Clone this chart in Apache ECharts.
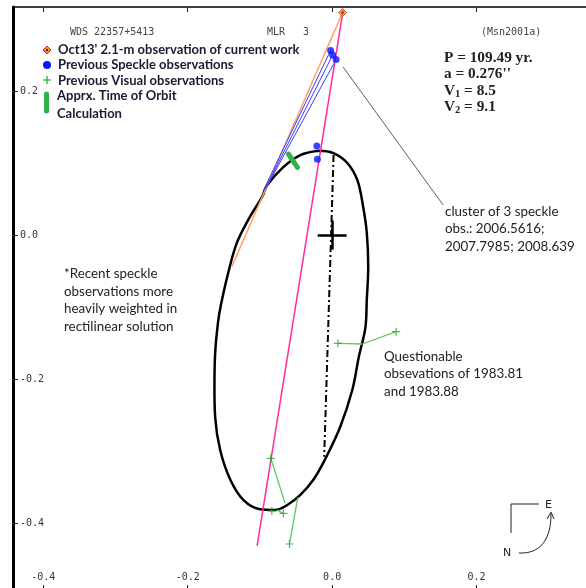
<!DOCTYPE html>
<html>
<head>
<meta charset="utf-8">
<script src="https://cdn.jsdelivr.net/npm/echarts@6/dist/echarts.min.js"></script>
<style>
  html, body { margin: 0; padding: 0; background: #fff; }
  #chart { width: 586px; height: 588px; }
</style>
</head>
<body>
<div id="chart"></div>
<script>
// tick values on both axes
const xTicks = [-0.4, -0.2, 0, 0.2];
const yTicks = [-0.4, -0.2, 0, 0.2];

// orbit ellipse (arcsec)
const orbit = [
  [-0.019, 0.117], [0.001, 0.114], [0.021, 0.100], [0.035, 0.076], [0.043, 0.039],
  [0.048, 0.003], [0.050, -0.044], [0.048, -0.090], [0.046, -0.129], [0.037, -0.169],
  [0.028, -0.215], [0.011, -0.267], [-0.010, -0.312], [-0.026, -0.340], [-0.044, -0.361],
  [-0.062, -0.375], [-0.079, -0.382], [-0.100, -0.381], [-0.123, -0.368], [-0.141, -0.340],
  [-0.155, -0.299], [-0.162, -0.253], [-0.163, -0.211], [-0.162, -0.164], [-0.158, -0.121],
  [-0.154, -0.097], [-0.144, -0.053], [-0.132, -0.011], [-0.114, 0.025], [-0.097, 0.053],
  [-0.090, 0.069], [-0.068, 0.094], [-0.044, 0.111], [-0.019, 0.117]
];
const apsides = [[0.002, 0.111], [-0.011, -0.308]];
const rectilinear = [[0.0152, 0.3125], [-0.1039, -0.4319]];

// Oct13' observation and its place on the orbit
const newObs = [[0.0145, 0.309]];
const newObsFit = [[-0.139, -0.044]];

// previous speckle observations
const speckle = [[-0.0021, 0.2563], [0.0007, 0.2500], [0.0055, 0.2438], [-0.0212, 0.1236], [-0.0204, 0.1051]];
const speckleFit = [[-0.0956, 0.0611], [-0.0928, 0.0639], [-0.0900, 0.0681], null, null];

// previous visual observations
const visual = [[0.0079, -0.1505], [0.0886, -0.1343], [-0.0849, -0.3102], [-0.0835, -0.3833], [-0.0675, -0.3866], [-0.0591, -0.4292]];
const visualFit = [[0.042, -0.1514], [0.042, -0.1514], [-0.0651, -0.3727], null, [-0.0766, -0.3819], [-0.0475, -0.3643]];

// approx. time of orbit calculation
const orbitCalc = [[-0.0605, 0.1125], [-0.0481, 0.0940]];

// pointer from the speckle cluster to its note
const clusterPointer = [[0.0152, 0.2333], [0.1537, 0.0417]];

const plusPath = 'path://M-0.6,-4 h1.2 v3.4 h3.4 v1.2 h-3.4 v3.4 h-1.2 v-3.4 h-3.4 v-1.2 h3.4 z';

function segs(from, to) {
  const out = [];
  from.forEach((p, i) => {
    if (to[i]) out.push({ coords: [p, to[i]] });
  });
  return out;
}

const chart = echarts.init(document.getElementById('chart'));

const monoFont = '10px "DejaVu Sans Mono"';
const legendFont = 'bold 13px Lato';
const noteFont = '13.4px Lato';
const paramFont = 'bold 15.3px "Liberation Serif"';

function txt(text, x, y, font, fill, extra) {
  return {
    type: 'text',
    z: 100,
    style: Object.assign({ text, x, y, font, fill, verticalAlign: 'middle' }, extra || {})
  };
}

chart.setOption({
  animation: false,
  backgroundColor: '#fff',
  grid: { left: 13, top: 7, width: 573, height: 582, outerBoundsMode: 'none' },
  xAxis: [
    {
      type: 'value',
      position: 'bottom',
      min: -0.442,
      max: 0.3516,
      splitLine: { show: false },
      axisLine: { show: false, onZero: false },
      axisTick: { inside: true, length: 4, customValues: xTicks, lineStyle: { color: '#222' } },
      axisLabel: {
        inside: true,
        margin: 7,
        customValues: xTicks,
        formatter: (v) => v.toFixed(1),
        fontFamily: 'DejaVu Sans Mono',
        fontSize: 10,
        color: '#333'
      }
    },
    {
      type: 'value',
      position: 'top',
      min: -0.442,
      max: 0.3516,
      splitLine: { show: false },
      axisLine: { show: true, onZero: false, lineStyle: { color: '#000', width: 1.5 } },
      axisTick: { inside: true, length: 5, customValues: xTicks, lineStyle: { color: '#222' } },
      axisLabel: { show: false }
    }
  ],
  yAxis: {
    type: 'value',
    position: 'left',
    min: -0.4917,
    max: 0.3167,
    splitLine: { show: false },
    axisLine: { show: true, onZero: false, lineStyle: { color: '#000', width: 3 } },
    axisTick: { inside: true, length: 5, customValues: yTicks, lineStyle: { color: '#222' } },
    axisLabel: {
      inside: true,
      margin: 7,
      customValues: yTicks,
      formatter: (v) => v.toFixed(1),
      fontFamily: 'DejaVu Sans Mono',
      fontSize: 10,
      color: '#333'
    }
  },
  series: [
    {
      name: 'Orbit',
      type: 'line',
      data: orbit,
      smooth: 0.35,
      showSymbol: false,
      lineStyle: { color: '#000', width: 2.5 },
      z: 3
    },
    {
      name: 'Line of apsides',
      type: 'line',
      data: apsides,
      showSymbol: false,
      lineStyle: { color: '#000', width: 2, type: [7, 3, 2, 3] },
      z: 3
    },
    {
      name: 'Primary',
      type: 'lines',
      coordinateSystem: 'cartesian2d',
      lineStyle: { color: '#000', width: 2.5, opacity: 1 },
      data: [
        { coords: [[-0.02, 0], [0.02, 0]] },
        { coords: [[0, -0.02], [0, 0.02]] }
      ],
      z: 4
    },
    {
      name: 'Rectilinear solution',
      type: 'line',
      data: rectilinear,
      showSymbol: false,
      lineStyle: { color: '#ff2d95', width: 1.5 },
      z: 5
    },
    {
      name: 'Oct13 residual',
      type: 'lines',
      coordinateSystem: 'cartesian2d',
      lineStyle: { color: '#ffa060', width: 1.5, opacity: 1 },
      data: segs(newObs, newObsFit),
      z: 4
    },
    {
      name: 'Speckle residuals',
      type: 'lines',
      coordinateSystem: 'cartesian2d',
      lineStyle: { color: '#3a3aff', width: 1, opacity: 1 },
      data: segs(speckle, speckleFit),
      z: 4
    },
    {
      name: 'Visual residuals',
      type: 'lines',
      coordinateSystem: 'cartesian2d',
      lineStyle: { color: '#5cc95c', width: 1.3, opacity: 1 },
      data: segs(visual, visualFit),
      z: 4
    },
    {
      name: 'Cluster note',
      type: 'lines',
      coordinateSystem: 'cartesian2d',
      lineStyle: { color: '#333', width: 0.8, opacity: 1 },
      data: [{ coords: clusterPointer }],
      z: 4
    },
    {
      name: 'Apprx. Time of Orbit Calculation',
      type: 'line',
      data: orbitCalc,
      showSymbol: false,
      lineStyle: { color: '#2eb34a', width: 5, cap: 'round' },
      z: 6
    },
    {
      name: 'Previous Visual observations',
      type: 'scatter',
      data: visual,
      symbol: plusPath,
      symbolSize: 8,
      itemStyle: { color: '#1fa82a' },
      z: 7
    },
    {
      name: 'Previous Speckle observations',
      type: 'scatter',
      data: speckle,
      symbol: 'circle',
      symbolSize: 7,
      itemStyle: { color: '#0a14ff' },
      z: 8
    },
    {
      name: "Oct13' 2.1-m observation of current work",
      type: 'scatter',
      data: newObs,
      symbol: 'diamond',
      symbolSize: 8,
      itemStyle: { color: '#ff8c30', borderColor: '#c0392b', borderWidth: 1 },
      z: 9
    },
    {
      name: 'Oct13 centre',
      type: 'scatter',
      data: newObs,
      symbol: 'circle',
      symbolSize: 2.5,
      itemStyle: { color: '#6a1a0a' },
      z: 10
    }
  ],
  graphic: [
    // header
    txt('WDS 22357+5413', 70, 32, monoFont, '#444'),
    txt('MLR   3', 267, 32, monoFont, '#444'),
    txt('(Msn2001a)', 481, 32, monoFont, '#444'),

    // legend
    { type: 'polygon', z: 100, shape: { points: [[47, 46], [51, 50], [47, 54], [43, 50]] }, style: { fill: '#ff8c30', stroke: '#c0392b', lineWidth: 1 } },
    { type: 'circle', z: 101, shape: { cx: 47, cy: 50, r: 1.2 }, style: { fill: '#6a1a0a' } },
    txt("Oct13' 2.1-m observation of current work", 58, 50, legendFont, '#1a1a33'),
    { type: 'circle', z: 100, shape: { cx: 47, cy: 65, r: 4 }, style: { fill: '#0a14ff' } },
    txt('Previous Speckle observations', 58, 65, legendFont, '#1a1a33'),
    { type: 'line', z: 100, shape: { x1: 47, y1: 76, x2: 47, y2: 84 }, style: { stroke: '#1fa82a', lineWidth: 1.2 } },
    { type: 'line', z: 100, shape: { x1: 43, y1: 80, x2: 51, y2: 80 }, style: { stroke: '#1fa82a', lineWidth: 1.2 } },
    txt('Previous Visual observations', 58, 81, legendFont, '#1a1a33'),
    { type: 'line', z: 100, shape: { x1: 46.5, y1: 94, x2: 46.5, y2: 111 }, style: { stroke: '#2eb34a', lineWidth: 5, lineCap: 'round' } },
    txt('Apprx. Time of Orbit', 57, 96, legendFont, '#1a1a33'),
    txt('Calculation', 57, 114, legendFont, '#1a1a33'),

    // orbital elements
    txt('P = 109.49 yr.', 444, 58, paramFont, '#222'),
    txt("a = 0.276''", 444, 74, paramFont, '#222'),
    {
      type: 'text', z: 100,
      style: {
        x: 444, y: 91, verticalAlign: 'middle',
        text: '{v|V}{s|1}{v| = 8.5}',
        rich: { v: { font: paramFont, fill: '#222' }, s: { font: 'bold 10.5px "Liberation Serif"', fill: '#222', padding: [6, 0, 0, 0] } }
      }
    },
    {
      type: 'text', z: 100,
      style: {
        x: 444, y: 107, verticalAlign: 'middle',
        text: '{v|V}{s|2}{v| = 9.1}',
        rich: { v: { font: paramFont, fill: '#222' }, s: { font: 'bold 10.5px "Liberation Serif"', fill: '#222', padding: [6, 0, 0, 0] } }
      }
    },

    // notes
    txt('cluster of 3 speckle\nobs.: 2006.5616;\n2007.7985; 2008.639', 445, 229, noteFont, '#222', { lineHeight: 17.5 }),
    txt('*Recent speckle\nobservations more\nheavily weighted in\nrectilinear solution', 64, 300, noteFont, '#222', { lineHeight: 17.5 }),
    txt('Questionable\nobsevations of 1983.81\nand 1983.88', 384, 374, noteFont, '#222', { lineHeight: 17.5 }),

    // compass
    { type: 'polyline', z: 100, shape: { points: [[539, 504], [511, 504], [511, 533]] }, style: { stroke: '#222', lineWidth: 1, fill: null } },
    txt('E', 545, 505, '11px "DejaVu Sans"', '#222'),
    txt('N', 503, 553, '11px "DejaVu Sans"', '#222'),
    { type: 'bezierCurve', z: 100, shape: { x1: 519, y1: 553, cpx1: 540, cpy1: 554, cpx2: 551, cpy2: 540, x2: 551, y2: 514 }, style: { stroke: '#222', lineWidth: 1, fill: null } },
    { type: 'polyline', z: 100, shape: { points: [[547, 519], [551, 512], [554, 519]] }, style: { stroke: '#222', lineWidth: 1, fill: null } }
  ]
});
</script>
</body>
</html>
